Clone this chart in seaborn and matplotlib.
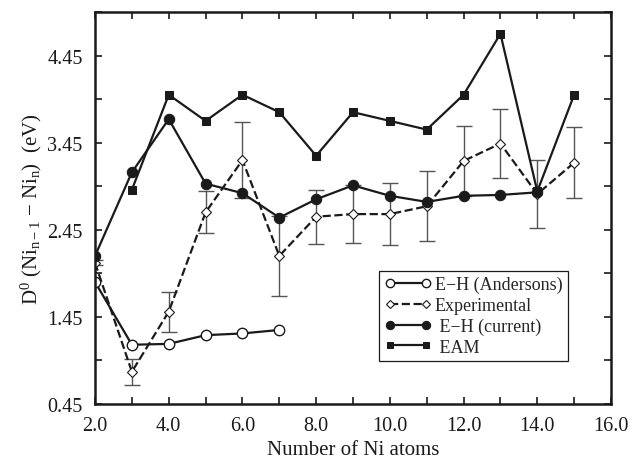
import matplotlib
matplotlib.use("Agg")
import matplotlib.pyplot as plt
from matplotlib.ticker import MultipleLocator, FixedLocator, FormatStrFormatter
import seaborn as sns
import numpy as np

# ---- data ----
x_and = [2, 3, 4, 5, 6, 7]
y_and = [1.85, 1.13, 1.14, 1.24, 1.26, 1.30]

x_exp = [2, 3, 4, 5, 6, 7, 8, 9, 10, 11, 12, 13, 14, 15]
y_exp = [2.07, 0.82, 1.51, 2.65, 3.25, 2.15, 2.60, 2.63, 2.63, 2.72, 3.24, 3.44, 2.86, 3.22]
err_exp = [0.03, 0.15, 0.23, 0.24, 0.44, 0.46, 0.31, 0.33, 0.36, 0.40, 0.40, 0.40, 0.39, 0.41]

x_cur = [2, 3, 4, 5, 6, 7, 8, 9, 10, 11, 12, 13, 14]
y_cur = [2.15, 3.11, 3.72, 2.98, 2.87, 2.59, 2.80, 2.96, 2.84, 2.77, 2.84, 2.85, 2.88]

x_eam = [3, 4, 5, 6, 7, 8, 9, 10, 11, 12, 13, 14, 15]
y_eam = [2.91, 4.0, 3.7, 4.0, 3.8, 3.3, 3.8, 3.7, 3.6, 4.0, 4.7, 2.89, 4.0]

labels = ["E\u2212H (Andersons)", "Experimental", " E\u2212H (current)", " EAM"]
xticks = [2, 4, 6, 8, 10, 12, 14, 16]
yticks = [0.45, 1.45, 2.45, 3.45, 4.45]

sns.set_theme(style="ticks")
plt.rcParams["font.family"] = ["Liberation Serif", "DejaVu Serif"]
plt.rcParams["mathtext.fontset"] = "custom"
plt.rcParams["mathtext.rm"] = "Liberation Serif"
plt.rcParams["mathtext.it"] = "Liberation Serif:italic"

fig = plt.figure(figsize=(6.31, 4.60), dpi=100)
ax = fig.add_axes([0.1506, 0.1196, 0.8177, 0.8521])

lw = 1.6
sns.lineplot(x=x_and, y=y_and, ax=ax, color="k", lw=lw, marker="o", markersize=7.5,
             markerfacecolor="white", markeredgecolor="k", markeredgewidth=1.0,
             label=labels[0])
ax.errorbar(x_exp, y_exp, yerr=err_exp, fmt="none", ecolor="#555555", elinewidth=1.0,
            capsize=6, capthick=1.0, zorder=1)
sns.lineplot(x=x_exp, y=y_exp, ax=ax, color="k", lw=lw, linestyle="--", marker="D",
             markersize=5.5, markerfacecolor="white", markeredgecolor="k",
             markeredgewidth=0.8, label=labels[1])
sns.lineplot(x=x_cur, y=y_cur, ax=ax, color="k", lw=lw, marker="o", markersize=7.5,
             markerfacecolor="k", markeredgecolor="k", label=labels[2])
sns.lineplot(x=x_eam, y=y_eam, ax=ax, color="k", lw=lw, marker="s", markersize=6,
             markerfacecolor="k", markeredgecolor="k", label=labels[3])

ax.set_xlim(2, 16)
ax.set_ylim(0.45, 4.95)
ax.xaxis.set_major_locator(FixedLocator(xticks))
ax.xaxis.set_minor_locator(MultipleLocator(1))
ax.xaxis.set_major_formatter(FormatStrFormatter("%.1f"))
ax.yaxis.set_major_locator(FixedLocator(yticks))
ax.yaxis.set_minor_locator(FixedLocator([0.95, 1.95, 2.95, 3.95, 4.95]))
ax.yaxis.set_major_formatter(FormatStrFormatter("%.2f"))

ax.tick_params(which="both", direction="in", top=True, right=True, length=5,
               width=1.2, color="k")
ax.tick_params(which="major", labelsize=14.5, colors="k", pad=9)
for s in ax.spines.values():
    s.set_linewidth(1.8)
    s.set_color("k")

ax.set_xlabel("Number of Ni atoms", fontsize=15, color="k", labelpad=3)
ax.set_ylabel(r"D$^{0}$ (Ni$_{\mathrm{n-1}}$ $-$ Ni$_{\mathrm{n}}$)  (eV)", fontsize=15,
              color="k", labelpad=2)

leg = ax.legend(loc="upper left", bbox_to_anchor=(0.55, 0.34), borderaxespad=0,
                fontsize=13, frameon=True, fancybox=False, edgecolor="k",
                framealpha=1, handlelength=2.6, labelspacing=0.2, markerscale=0.8,
                numpoints=2, borderpad=0.3, handletextpad=0.2)
leg.get_frame().set_linewidth(0.9)

fig.savefig("out.png", dpi=100)
